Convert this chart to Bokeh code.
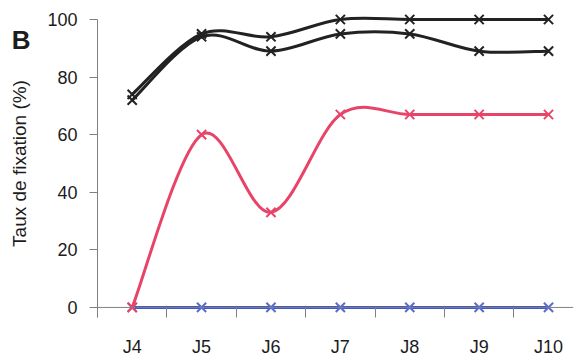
from bokeh.plotting import figure
from bokeh.models import FixedTicker, Span, Range1d, ColumnDataSource, LinearAxis
from bokeh.embed import file_html
from bokeh.resources import INLINE

# ---- data ----
days = ["J4", "J5", "J6", "J7", "J8", "J9", "J10"]
serie_noire_1 = [74, 95, 94, 100, 100, 100, 100]
serie_noire_2 = [72, 94, 89, 95, 95, 89, 89]
serie_rouge = [0, 60, 33, 67, 67, 67, 67]
serie_bleue = [0, 0, 0, 0, 0, 0, 0]
y_ticks = [0, 20, 40, 60, 80, 100]
y_label = "Taux de fixation (%)"
panel_letter = "B"
panel_letter_y = 93

xs = list(range(len(days)))

FONT = "Liberation Sans"


def smooth_segments(xv, yv):
    """Catmull-Rom style cubic Bezier control points (Excel-like smoothed line)."""
    n = len(xv)
    d = dict(x0=[], y0=[], x1=[], y1=[], cx0=[], cy0=[], cx1=[], cy1=[])
    for i in range(n - 1):
        a = max(i - 1, 0)
        b = min(i + 2, n - 1)
        d["x0"].append(xv[i]); d["y0"].append(yv[i])
        d["x1"].append(xv[i + 1]); d["y1"].append(yv[i + 1])
        d["cx0"].append(xv[i] + (xv[i + 1] - xv[a]) / 6)
        d["cy0"].append(yv[i] + (yv[i + 1] - yv[a]) / 6)
        d["cx1"].append(xv[i + 1] - (xv[b] - xv[i]) / 6)
        d["cy1"].append(yv[i + 1] - (yv[b] - yv[i]) / 6)
    return ColumnDataSource(d)


p = figure(width=578, height=361, output_backend="svg", toolbar_location=None,
           x_range=Range1d(-0.5, 6.36), y_range=Range1d(-3.5, 103.47),
           min_border_left=97, min_border_right=5, min_border_top=9, min_border_bottom=44)
p.outline_line_color = None
p.xgrid.visible = False
p.ygrid.visible = False
p.background_fill_color = "white"
p.border_fill_color = "white"

axis_col = "#808080"
text_col = "#1c1c1c"

# y axis
p.yaxis.ticker = FixedTicker(ticks=y_ticks)
p.yaxis.bounds = (-3.5, 100)
p.yaxis.axis_line_color = axis_col
p.yaxis.major_tick_line_color = axis_col
p.yaxis.major_tick_out = 8
p.yaxis.major_tick_in = 0
p.yaxis.minor_tick_line_color = None
p.yaxis.major_label_standoff = 12
p.yaxis.major_label_text_font = FONT
p.yaxis.major_label_text_font_size = "18px"
p.yaxis.major_label_text_color = text_col

# outer left axis: carries the panel letter and the axis title
outer = LinearAxis(ticker=FixedTicker(ticks=[panel_letter_y]),
                   major_label_overrides={panel_letter_y: panel_letter},
                   axis_line_color=None, major_tick_line_color=None,
                   minor_tick_line_color=None, major_tick_out=0, major_tick_in=0,
                   major_label_standoff=14,
                   major_label_text_font=FONT, major_label_text_font_size="26px",
                   major_label_text_font_style="bold", major_label_text_color=text_col,
                   axis_label=y_label, axis_label_text_font=FONT,
                   axis_label_text_font_size="19px", axis_label_text_font_style="normal",
                   axis_label_text_color=text_col, axis_label_standoff=-21)
p.add_layout(outer, "left")

# x axis (categories at integer positions, tick marks at boundaries)
p.xaxis.ticker = FixedTicker(ticks=xs, minor_ticks=[x - 0.5 for x in xs])
p.xaxis.major_label_overrides = {i: d for i, d in enumerate(days)}
p.xaxis.axis_line_color = None
p.xaxis.major_tick_line_color = None
p.xaxis.major_tick_in = 0
p.xaxis.major_tick_out = 0
p.xaxis.minor_tick_line_color = axis_col
p.xaxis.minor_tick_in = 10
p.xaxis.minor_tick_out = 0
p.xaxis.major_label_standoff = 19
p.xaxis.major_label_text_font = FONT
p.xaxis.major_label_text_font_size = "18px"
p.xaxis.major_label_text_color = text_col

# horizontal axis line at 0
p.add_layout(Span(location=0, dimension="width", line_color=axis_col, line_width=1))

blue = "#3d58c8"
red = "#e84468"
black = "#222222"

# blue series
p.line(xs, serie_bleue, line_color=blue, line_width=3)
p.scatter(xs, serie_bleue, marker="x", size=13, line_color="#5a6bd0", line_width=2)

# red series
p.bezier(x0="x0", y0="y0", x1="x1", y1="y1", cx0="cx0", cy0="cy0", cx1="cx1", cy1="cy1",
         source=smooth_segments(xs, serie_rouge), line_color=red, line_width=3, line_cap="round")
p.scatter(xs, serie_rouge, marker="x", size=13, line_color=red, line_width=2)

# black series
for s in (serie_noire_1, serie_noire_2):
    p.bezier(x0="x0", y0="y0", x1="x1", y1="y1", cx0="cx0", cy0="cy0", cx1="cx1", cy1="cy1",
             source=smooth_segments(xs, s), line_color=black, line_width=3, line_cap="round")
    p.scatter(xs, s, marker="x", size=13, line_color=black, line_width=2)

open("out.html", "w").write(file_html(p, INLINE))
